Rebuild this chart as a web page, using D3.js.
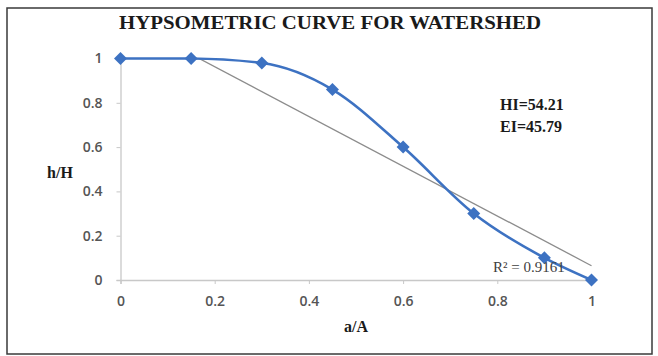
<!DOCTYPE html>
<html>
<head>
<meta charset="utf-8">
<script src="https://cdn.jsdelivr.net/npm/d3@7"></script>
<style>
  body { margin: 0; background: #fff; }
  svg { display: block; }
</style>
</head>
<body>
<div id="chart"></div>
<script>
// data
const areaRatio = [0, 0.15, 0.3, 0.45, 0.6, 0.75, 0.9, 1];
const heightRatio = [1, 1, 0.98, 0.86, 0.6, 0.3, 0.1, 0];
const xTicks = [0, 0.2, 0.4, 0.6, 0.8, 1];
const yTicks = [0, 0.2, 0.4, 0.6, 0.8, 1];
const notes = ['HI=54.21', 'EI=45.79'];
const rSquaredLabel = 'R² = 0.9161';

const W = 658, H = 356;
const plot = { left: 120.5, right: 591.5, top: 58.5, bottom: 280 };

const svg = d3.select('#chart').append('svg')
    .attr('width', W)
    .attr('height', H);

// chart border
svg.append('rect')
    .attr('x', 7).attr('y', 8)
    .attr('width', 645).attr('height', 346)
    .attr('fill', '#fff')
    .attr('stroke', '#3a3a3a')
    .attr('stroke-width', 1.5);

const x = d3.scaleLinear().domain([0, 1]).range([plot.left, plot.right]);
const y = d3.scaleLinear().domain([0, 1]).range([plot.bottom, plot.top]);

const serif = '"Liberation Serif", "DejaVu Serif", serif';
const sans = '"Open Sans", "Liberation Sans", sans-serif';

// title
svg.append('text')
    .attr('x', 330).attr('y', 29)
    .attr('text-anchor', 'middle')
    .attr('font-family', serif)
    .attr('font-weight', 'bold')
    .attr('font-size', 19)
    .attr('textLength', 422)
    .attr('lengthAdjust', 'spacingAndGlyphs')
    .attr('fill', '#1a1a1a')
    .text('HYPSOMETRIC CURVE FOR WATERSHED');

// axes
const xAxis = svg.append('g')
    .attr('transform', `translate(0,${plot.bottom})`)
    .call(d3.axisBottom(x).tickValues(xTicks).tickSize(4).tickPadding(12)
        .tickFormat(d => d3.format('')(d)));

const yAxis = svg.append('g')
    .attr('transform', `translate(${plot.left},0)`)
    .call(d3.axisLeft(y).tickValues(yTicks).tickSize(4).tickPadding(14)
        .tickFormat(d => d3.format('')(d)));

[xAxis, yAxis].forEach(g => {
    g.select('.domain').attr('stroke', '#c8c8c8').attr('stroke-width', 1.3);
    g.selectAll('.tick line').attr('stroke', '#c8c8c8');
    g.selectAll('.tick text')
        .attr('font-family', sans)
        .attr('font-size', 14)
        .attr('font-weight', 600)
        .attr('fill', '#555');
});

// axis titles
svg.append('text')
    .attr('x', 60).attr('y', 178)
    .attr('text-anchor', 'middle')
    .attr('font-family', serif).attr('font-weight', 'bold')
    .attr('font-size', 16).attr('fill', '#1a1a1a')
    .text('h/H');

svg.append('text')
    .attr('x', 356).attr('y', 332)
    .attr('text-anchor', 'middle')
    .attr('font-family', serif).attr('font-weight', 'bold')
    .attr('font-size', 16).attr('fill', '#1a1a1a')
    .text('a/A');

// linear trendline (least squares on the series), clipped to plot area
const mx = d3.mean(areaRatio), my = d3.mean(heightRatio);
const slope = d3.sum(areaRatio, (v, i) => (v - mx) * (heightRatio[i] - my)) /
    d3.sum(areaRatio, v => (v - mx) * (v - mx));
const icpt = my - slope * mx;

svg.append('clipPath').attr('id', 'plotClip')
    .append('rect')
    .attr('x', plot.left).attr('y', plot.top)
    .attr('width', plot.right - plot.left + 2)
    .attr('height', plot.bottom - plot.top);

svg.append('line')
    .attr('clip-path', 'url(#plotClip)')
    .attr('x1', x(0)).attr('y1', y(icpt))
    .attr('x2', x(1)).attr('y2', y(icpt + slope))
    .attr('stroke', '#8c8c8c')
    .attr('stroke-width', 1.3);

// hypsometric curve
const pts = areaRatio.map((v, i) => [v, heightRatio[i]]);
svg.append('path')
    .datum(pts)
    .attr('fill', 'none')
    .attr('stroke', '#3d72c2')
    .attr('stroke-width', 2.6)
    .attr('d', d3.line()
        .x(d => x(d[0]))
        .y(d => y(d[1]))
        .curve(d3.curveMonotoneX));

svg.selectAll('.dot')
    .data(pts)
    .enter()
    .append('path')
    .attr('class', 'dot')
    .attr('transform', d => `translate(${x(d[0])},${y(d[1])})`)
    .attr('d', 'M0,-6.5L6.5,0L0,6.5L-6.5,0Z')
    .attr('fill', '#3d72c2');

// annotations
svg.selectAll('.note')
    .data(notes)
    .enter()
    .append('text')
    .attr('class', 'note')
    .attr('x', 500)
    .attr('y', (d, i) => 110 + i * 22)
    .attr('font-family', serif).attr('font-weight', 'bold')
    .attr('font-size', 16).attr('fill', '#1a1a1a')
    .text(d => d);

svg.append('text')
    .attr('x', 493).attr('y', 272)
    .attr('font-family', serif)
    .attr('font-size', 15).attr('fill', '#404040')
    .text(rSquaredLabel);
</script>
</body>
</html>
